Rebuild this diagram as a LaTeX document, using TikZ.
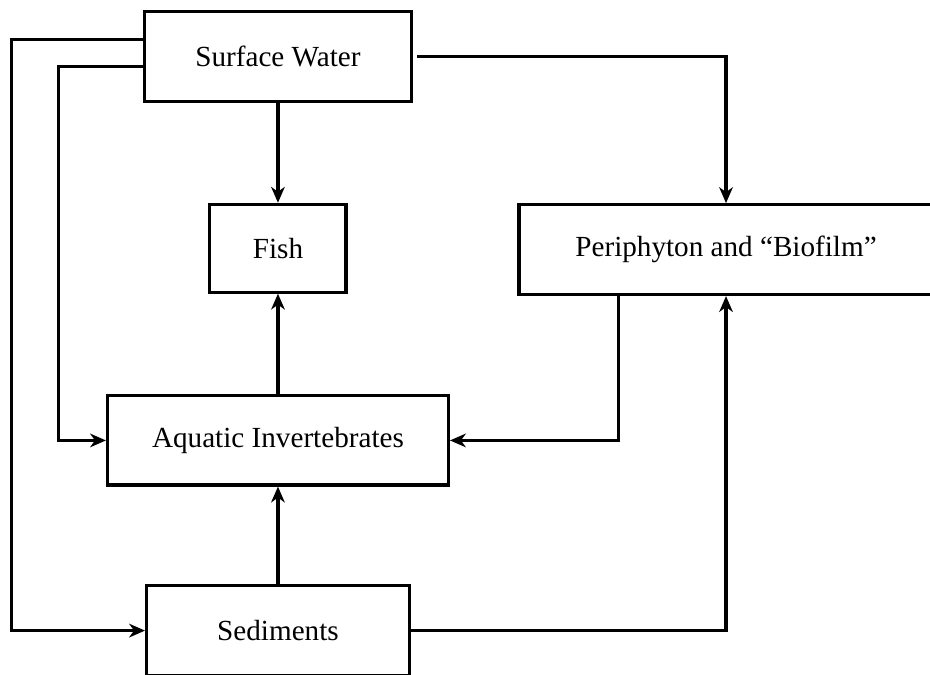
\documentclass[tikz,border=0pt]{standalone}
\usepackage{fontspec}
\setmainfont{Liberation Serif}
\usepackage{tikz}
\usetikzlibrary{arrows.meta}

\begin{document}
\begin{tikzpicture}
    \tikzset{bloc/.style={draw,rectangle,line width=1.3pt,minimum height=1.30cm,inner sep=0pt},text centered,color=black,font=\large}
    \tikzstyle{fleche}=[-{Stealth[length=6.5pt,width=5.6pt,inset=2pt]},line width=1.3pt]
    \useasboundingbox (0,0) rectangle (13.45,9.76);

    \node[bloc,minimum width=3.86cm] (SW) at (4.02,8.94) {Surface Water};
    \node[bloc,minimum width=1.97cm,minimum height=1.27cm] (FISH) at (4.02,6.17) {Fish};
    \node[bloc,minimum width=5.99cm] (PER) at (10.50,6.15) {Periphyton and ``Biofilm''};
    \node[bloc,minimum width=4.93cm,minimum height=1.29cm] (AQ) at (4.02,3.39) {Aquatic Invertebrates};
    \node[bloc,minimum width=3.80cm] (SED) at (4.02,0.64) {Sediments};

    % rails on the left
    \coordinate (railA) at (0.17,0);
    \coordinate (railB) at (0.84,0);

    \draw[fleche] (SW.south)--(FISH.north);
    \draw[fleche] (AQ.north)--(FISH.south);
    \draw[fleche] (SED.north)--(AQ.south);
    \draw[fleche,shorten <=0.06cm] (SW.east) -| (PER.north);
    \draw[fleche] ([yshift=0.25cm]SW.west) -- ([yshift=0.25cm]SW.west -| railA) |- (SED.west);
    \draw[fleche] ([yshift=-0.145cm]SW.west) -- ([yshift=-0.145cm]SW.west -| railB) |- (AQ.west);
    \draw[fleche] ([xshift=-1.56cm]PER.south) |- (AQ.east);
    \draw[fleche] (SED.east) -| (PER.south);
\end{tikzpicture}
\end{document}
